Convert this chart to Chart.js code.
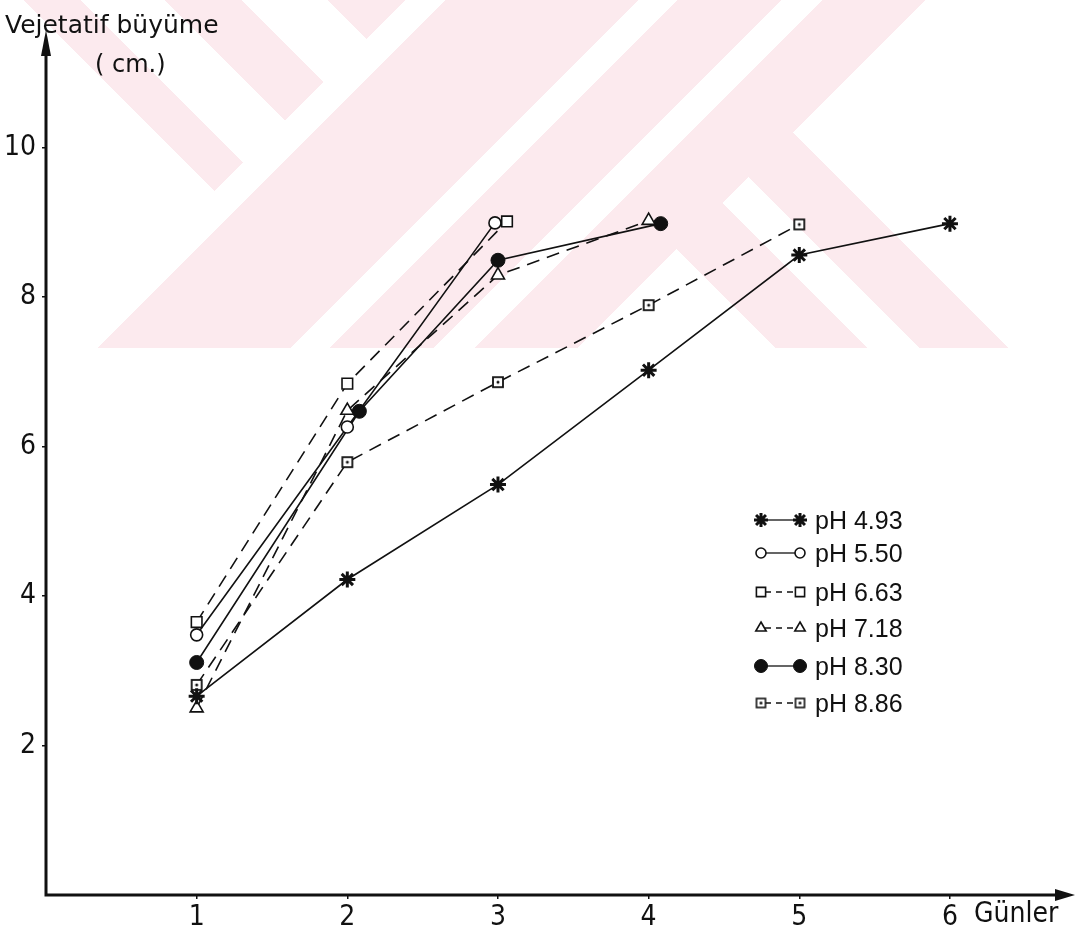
<!DOCTYPE html>
<html>
<head>
<meta charset="utf-8">
<script src="https://cdn.jsdelivr.net/npm/chart.js@4.4.1/dist/chart.umd.min.js"></script>
<style>
html,body{margin:0;padding:0;background:#fff;}
canvas{display:block;}
</style>
</head>
<body>
<canvas id="c" width="1087" height="936"></canvas>
<script>
// ---------------- DATA ----------------
const seriesLabels = ['pH 4.93', 'pH 5.50', 'pH 6.63', 'pH 7.18', 'pH 8.30', 'pH 8.86'];
const daysPH493 = [1, 2, 3, 4, 5, 6];
const valuesPH493 = [2.66, 4.22, 5.49, 7.02, 8.56, 8.98];
const daysPH550 = [1, 2, 2.98];
const valuesPH550 = [3.48, 6.26, 8.99];
const daysPH663 = [1, 2, 3.06];
const valuesPH663 = [3.65, 6.84, 9.01];
const daysPH718 = [1, 2, 3, 4];
const valuesPH718 = [2.50, 6.48, 8.29, 9.02];
const daysPH830 = [1, 2.08, 3, 4.08];
const valuesPH830 = [3.11, 6.47, 8.49, 8.98];
const daysPH886 = [1, 2, 3, 4, 5];
const valuesPH886 = [2.81, 5.79, 6.86, 7.89, 8.97];
const xTickLabels = ['1', '2', '3', '4', '5', '6'];
const yTickLabels = ['2', '4', '6', '8', '10'];
const yAxisTitle = ['Vejetatif büyüme', '( cm.)'];
const xAxisTitle = 'Günler';

// ---------------- STYLE HELPERS ----------------
const NARROW = '"Liberation Sans Narrow", "Arial Narrow", "DejaVu Sans Condensed", sans-serif';
const INK = '#111';

function makeDotSquare(side, lw) {
  const s = Math.ceil(side + lw + 2);
  const c = document.createElement('canvas');
  c.width = s; c.height = s;
  const g = c.getContext('2d');
  const o = (s - side) / 2;
  g.fillStyle = '#fff'; g.fillRect(o, o, side, side);
  g.strokeStyle = INK; g.lineWidth = lw; g.strokeRect(o, o, side, side);
  g.beginPath(); g.arc(s / 2, s / 2, 1.5, 0, Math.PI * 2); g.fillStyle = INK; g.fill();
  return c;
}
const dotSquareBig = makeDotSquare(10, 1.8);
const dotSquareSmall = makeDotSquare(9, 1.6);

function pts(xs, ys) { return xs.map((x, i) => ({x: x, y: ys[i]})); }

const DASH = [13, 8];
const styles = [
  {pointStyle: 'star', radius: 8, fill: INK, bw: 3, dash: [], lr: 7, lbw: 3},
  {pointStyle: 'circle', radius: 6, fill: '#fff', bw: 1.6, dash: [], lr: 5, lbw: 1.6},
  {pointStyle: 'rect', radius: 7.5, fill: '#fff', bw: 1.6, dash: DASH, lr: 6.5, lbw: 1.6},
  {pointStyle: 'triangle', radius: 7.5, fill: '#fff', bw: 1.6, dash: DASH, lr: 6, lbw: 1.6},
  {pointStyle: 'circle', radius: 7, fill: INK, bw: 1, dash: [], lr: 6.5, lbw: 1},
  {pointStyle: dotSquareBig, radius: 7, fill: '#fff', bw: 1.6, dash: DASH, lr: 6, lbw: 1.6, legendImg: dotSquareSmall}
];
const seriesData = [
  pts(daysPH493, valuesPH493), pts(daysPH550, valuesPH550), pts(daysPH663, valuesPH663),
  pts(daysPH718, valuesPH718), pts(daysPH830, valuesPH830), pts(daysPH886, valuesPH886)
];

const datasets = seriesLabels.map((lab, i) => ({
  label: lab,
  data: seriesData[i],
  borderColor: INK,
  borderWidth: 1.6,
  borderDash: styles[i].dash,
  pointStyle: styles[i].pointStyle,
  pointRadius: styles[i].radius,
  pointBorderWidth: styles[i].bw,
  pointBorderColor: INK,
  pointBackgroundColor: styles[i].fill,
  tension: 0,
  fill: false,
  clip: false
}));

// ---------------- WATERMARK (faint background decoration) ----------------
function buildWatermark(w, h) {
  const c = document.createElement('canvas');
  c.width = w; c.height = h;
  const g = c.getContext('2d');
  const img = g.createImageData(w, h);
  const d = img.data;
  for (let y = 0; y < h; y++) {
    for (let x = 0; x < w; x++) {
      const u = x + y, v = x - y;
      let pink;
      if (u < 405) pink = !(v < 24 || (v > 80 && v < 165) || (v > 241 && v < 328));
      else if (u < 445) pink = false;
      else if (u < 925) pink = !((u > 637 && u < 677) || (u > 780 && u < 822));
      else pink = (v > 427 && v < 520) || (v > 571 && v < 661);
      if (pink) {
        const k = (y * w + x) * 4;
        d[k] = 252; d[k + 1] = 234; d[k + 2] = 238; d[k + 3] = 255;
      }
    }
  }
  g.putImageData(img, 0, 0);
  return c;
}
const watermark = buildWatermark(1087, 348);

const backgroundPlugin = {
  id: 'bg',
  beforeDraw(chart) {
    const ctx = chart.ctx;
    ctx.save();
    ctx.fillStyle = '#fff';
    ctx.fillRect(0, 0, chart.width, chart.height);
    ctx.drawImage(watermark, 0, 0);
    ctx.restore();
  }
};

// ---------------- AXES (thick lines with arrows) + TITLES ----------------
const axesPlugin = {
  id: 'axesArrows',
  afterDraw(chart) {
    const ctx = chart.ctx, ca = chart.chartArea;
    const xs = chart.scales.x, ys = chart.scales.y;
    const x0 = xs.getPixelForValue(0), y0 = ys.getPixelForValue(0);
    ctx.save();
    ctx.strokeStyle = INK; ctx.fillStyle = INK; ctx.lineWidth = 3; ctx.lineCap = 'butt';
    ctx.beginPath();
    ctx.moveTo(x0, ca.top + 18);
    ctx.lineTo(x0, y0);
    ctx.lineTo(ca.right - 16, y0);
    ctx.stroke();
    // y arrow
    ctx.beginPath();
    ctx.moveTo(x0, ca.top);
    ctx.lineTo(x0 - 5, ca.top + 26);
    ctx.lineTo(x0 + 5, ca.top + 26);
    ctx.closePath(); ctx.fill();
    // x arrow
    ctx.beginPath();
    ctx.moveTo(ca.right, y0);
    ctx.lineTo(ca.right - 20, y0 - 6);
    ctx.lineTo(ca.right - 20, y0 + 6);
    ctx.closePath(); ctx.fill();

    // titles
    ctx.fillStyle = INK;
    ctx.textBaseline = 'alphabetic';
    ctx.textAlign = 'left';
    ctx.font = '25px "DejaVu Sans", sans-serif';
    ctx.fillText(yAxisTitle[0], 5, 33);
    ctx.font = '24px "DejaVu Sans", sans-serif';
    ctx.fillText(yAxisTitle[1], 95, 72);
    ctx.font = '28px ' + NARROW;
    ctx.textBaseline = 'top';
    ctx.fillText(xAxisTitle, xs.getPixelForValue(6) + 24, y0 + 6);
    ctx.restore();
  }
};

// ---------------- LEGEND (marker—line—marker  label) ----------------
const legendPlugin = {
  id: 'customLegend',
  afterDraw(chart) {
    const ctx = chart.ctx;
    const rowsY = [520, 553, 592, 628, 666, 703];
    const xl = 761, xr = 800, xt = 815;
    ctx.save();
    chart.data.datasets.forEach((ds, i) => {
      const st = styles[i];
      const y = rowsY[i];
      ctx.strokeStyle = INK; ctx.lineWidth = 1.3;
      ctx.setLineDash(st.dash.length ? [6, 5] : []);
      ctx.beginPath(); ctx.moveTo(xl + 4, y); ctx.lineTo(xr - 4, y); ctx.stroke();
      ctx.setLineDash([]);
      const opts = {pointStyle: st.legendImg || st.pointStyle, radius: st.lr, borderWidth: st.lbw, rotation: 0};
      [xl, xr].forEach(px => {
        ctx.fillStyle = st.fill; ctx.strokeStyle = INK; ctx.lineWidth = st.lbw;
        Chart.helpers.drawPoint(ctx, opts, px, y);
      });
      ctx.fillStyle = INK;
      ctx.font = '25px "Liberation Sans", Arial, sans-serif';
      ctx.textBaseline = 'alphabetic';
      ctx.textAlign = 'left';
      ctx.fillText(ds.label, xt, y + 9);
    });
    ctx.restore();
  }
};

// ---------------- CHART ----------------
new Chart(document.getElementById('c'), {
  type: 'line',
  data: {datasets: datasets},
  plugins: [backgroundPlugin, axesPlugin, legendPlugin],
  options: {
    responsive: false,
    animation: false,
    events: [],
    layout: {autoPadding: false, padding: {left: 0, right: 12, top: 30, bottom: 0}},
    plugins: {legend: {display: false}, tooltip: {enabled: false}, title: {display: false}},
    scales: {
      x: {
        type: 'linear',
        min: 0, max: 6.83,
        afterFit(s) { s.height = 41; },
        afterBuildTicks(s) { s.ticks = s.ticks.filter(t => Number.isInteger(t.value) && t.value > 0 && t.value <= xTickLabels.length); },
        ticks: {
          stepSize: 1, autoSkip: false, maxRotation: 0, padding: 2, color: INK,
          font: {family: NARROW, size: 28},
          callback: v => xTickLabels[v - 1]
        },
        grid: {display: true, drawOnChartArea: false, drawTicks: true, tickLength: 4, color: INK, lineWidth: 1.5},
        border: {display: false}
      },
      y: {
        type: 'linear',
        min: 0, max: 11.57,
        afterFit(s) { s.width = 46; },
        afterBuildTicks(s) { s.ticks = s.ticks.filter(t => yTickLabels.includes(String(t.value))); },
        ticks: {
          stepSize: 2, autoSkip: false, padding: 6, color: INK,
          font: {family: NARROW, size: 28},
          callback: v => String(v)
        },
        grid: {display: true, drawOnChartArea: false, drawTicks: true, tickLength: 4, color: INK, lineWidth: 1.5},
        border: {display: false}
      }
    }
  }
});
</script>
</body>
</html>
